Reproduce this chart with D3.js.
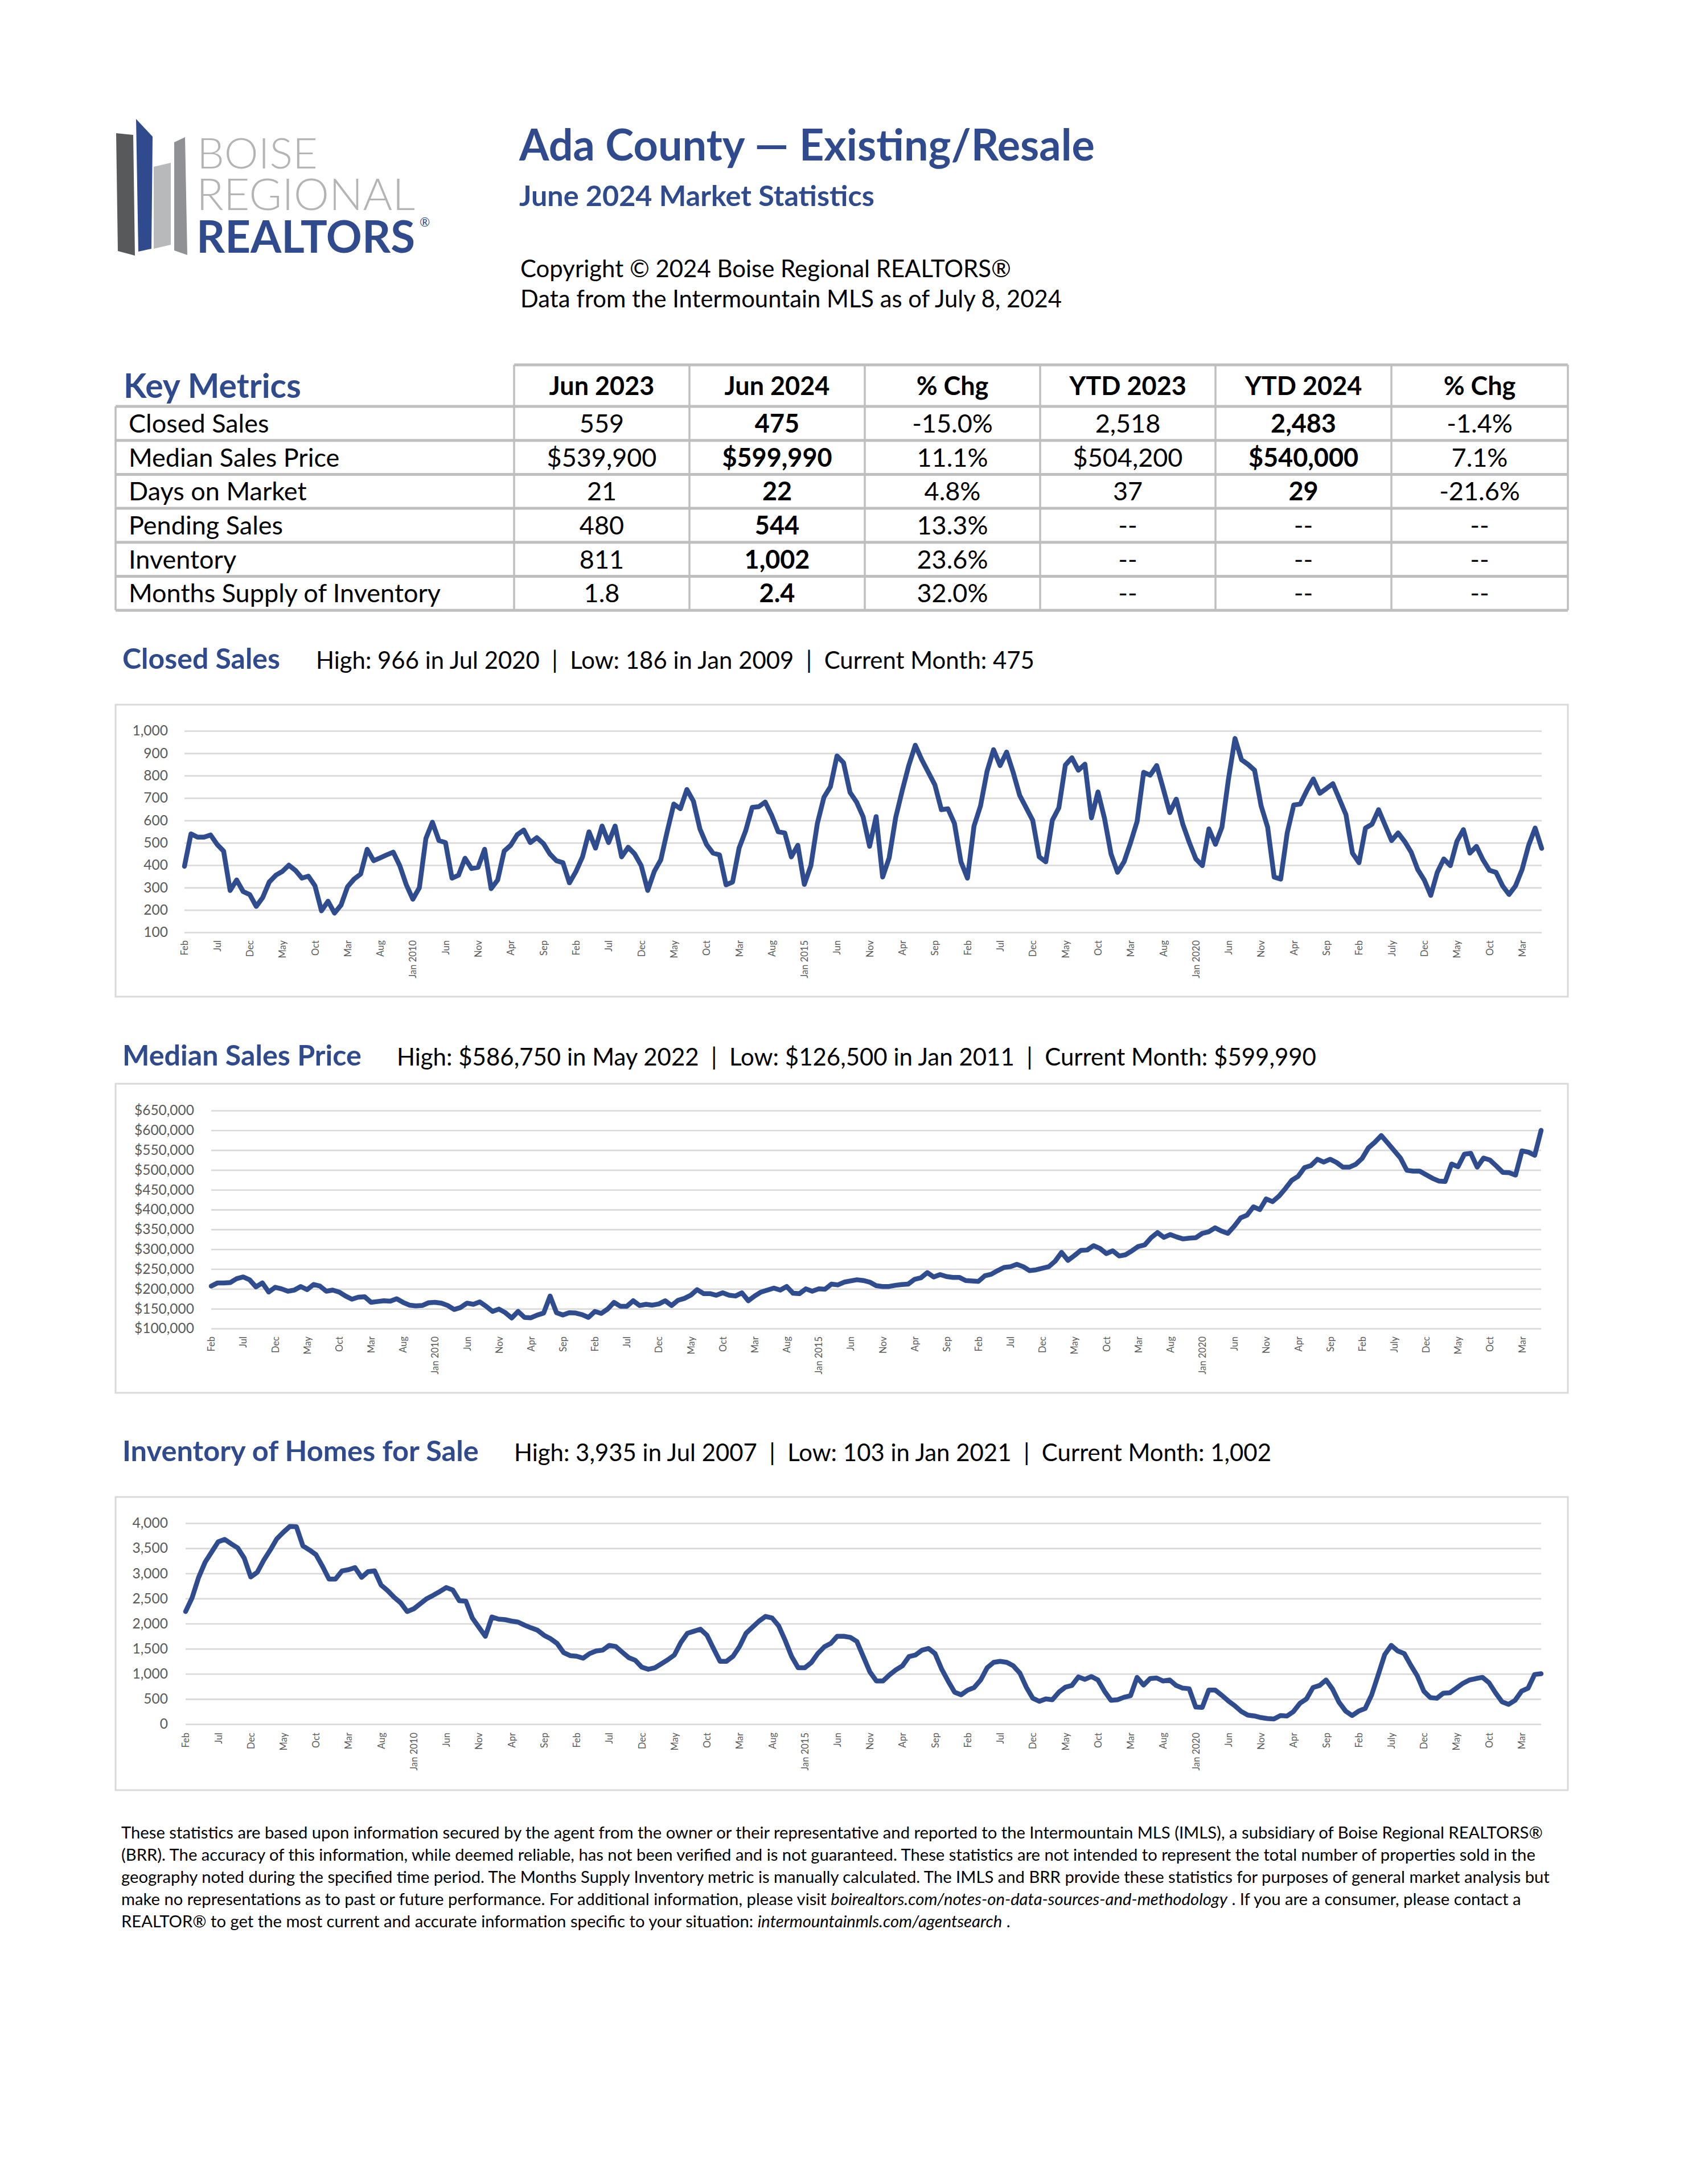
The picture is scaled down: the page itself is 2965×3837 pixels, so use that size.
<!DOCTYPE html>
<html>
<head>
<meta charset="utf-8">
<script src="https://cdn.jsdelivr.net/npm/d3@7/dist/d3.min.js"></script>
<style>
  body { margin: 0; background: #fff; }
  svg { display: block; }
  text { font-family: Lato, "Open Sans", sans-serif; }
</style>
</head>
<body>
<svg id="page"></svg>
<script>
/******************* Data *******************************/
// monthly series, Feb 2007 .. Jun 2024
var closedSales = [
  395, 540, 525, 525, 535, 493, 463, 287, 334, 282,
  269, 216, 256, 325, 355, 372, 400, 377, 342, 351,
  308, 196, 239, 186, 222, 304, 338, 360, 471, 420,
  433, 446, 458, 398, 312, 248, 299, 519, 592, 510,
  501, 342, 355, 431, 385, 390, 471, 295, 334, 463,
  489, 536, 557, 501, 523, 497, 450, 420, 411, 321,
  372, 437, 549, 476, 575, 501, 575, 437, 480, 450,
  398, 287, 372, 424, 553, 673, 652, 738, 686, 562,
  493, 454, 446, 312, 325, 476, 553, 658, 661, 682,
  622, 549, 544, 437, 489, 314, 398, 587, 703, 751,
  888, 858, 725, 682, 617, 484, 617, 347, 433, 613,
  733, 845, 936, 871, 815, 759, 648, 652, 587, 415,
  342, 574, 665, 819, 916, 845, 905, 815, 712, 656,
  600, 437, 415, 600, 656, 847, 880, 824, 851, 611,
  727, 609, 450, 368, 415, 501, 596, 815, 802, 845,
  742, 635, 695, 583, 501, 428, 398, 562, 493, 570,
  785, 966, 871, 850, 824, 665, 570, 347, 338, 544,
  669, 673, 733, 785, 721, 742, 764, 695, 626, 454,
  411, 566, 583, 648, 579, 510, 544, 506, 458, 381,
  334, 265, 368, 428, 398, 506, 559, 454, 484, 424,
  377, 368, 308, 269, 308, 381, 489, 566, 475
];

// median sales price, thousands of dollars
var medianPriceK = [
  207, 215, 215, 216, 226, 230, 223, 205, 215, 192,
  204, 200, 194, 197, 206, 198, 211, 207, 194, 197,
  192, 182, 174, 179, 180, 166, 168, 170, 169, 175,
  166, 159, 157, 158, 165, 166, 164, 158, 148, 153,
  164, 161, 167, 156, 143, 149, 140, 126.5, 143, 128,
  127, 134, 139, 182, 140, 134, 140, 139, 135, 128,
  143, 138, 149, 166, 156, 156, 170, 158, 161, 159,
  162, 170, 158, 171, 176, 184, 198, 188, 188, 184,
  190, 184, 182, 190, 170, 182, 192, 197, 202, 197,
  206, 189, 188, 200, 194, 200, 199, 212, 210, 217,
  220, 223, 221, 217, 208, 206, 206, 209, 211, 212,
  224, 228, 241, 230, 236, 231, 229, 229, 221, 220,
  219, 233, 237, 246, 254, 256, 262, 256, 246, 248,
  252, 256, 270, 292, 272, 284, 297, 298, 309, 302,
  289, 296, 283, 286, 296, 307, 311, 329, 342, 330,
  337, 331, 326, 328, 329, 340, 344, 354, 346, 340,
  358, 379, 386, 407, 400, 427, 420, 434, 453, 474,
  484, 506, 511, 527, 520, 527, 519, 507, 507, 514,
  529, 556, 570, 586.75, 568, 549, 530, 499, 497, 497,
  488, 479, 472, 471, 515, 508, 539.9, 542, 507, 530,
  525, 510, 494, 493, 487, 548, 545, 537, 599.99
];

var inventory = [
  2241, 2516, 2921, 3224, 3426, 3629, 3677, 3588, 3507, 3305,
  2929, 3022, 3264, 3467, 3689, 3819, 3935, 3930, 3548, 3467,
  3374, 3143, 2888, 2888, 3050, 3074, 3115, 2921, 3034, 3050,
  2767, 2658, 2524, 2415, 2241, 2294, 2395, 2496, 2565, 2638,
  2718, 2670, 2456, 2447, 2112, 1930, 1748, 2132, 2091, 2079,
  2051, 2031, 1970, 1917, 1869, 1768, 1699, 1606, 1424, 1363,
  1351, 1311, 1404, 1456, 1472, 1566, 1545, 1432, 1323, 1270,
  1133, 1092, 1121, 1201, 1282, 1375, 1626, 1808, 1849, 1889,
  1768, 1505, 1250, 1250, 1351, 1545, 1808, 1930, 2051, 2144,
  2112, 1958, 1667, 1343, 1121, 1121, 1222, 1404, 1537, 1606,
  1748, 1748, 1727, 1646, 1343, 1040, 858, 858, 979, 1080,
  1161, 1343, 1375, 1472, 1505, 1404, 1100, 858, 635, 583,
  676, 728, 878, 1121, 1230, 1250, 1230, 1161, 1019, 736,
  514, 453, 502, 485, 635, 736, 769, 939, 890, 947,
  878, 655, 473, 485, 534, 566, 930, 777, 906, 918,
  858, 878, 769, 716, 704, 340, 332, 676, 676, 574,
  461, 364, 251, 178, 162, 130, 110, 103, 170, 160,
  250, 415, 502, 728, 769, 878, 696, 433, 259, 170,
  259, 311, 583, 979, 1384, 1566, 1456, 1404, 1173, 959,
  655, 526, 514, 615, 623, 716, 811, 878, 906, 930,
  825, 623, 445, 392, 473, 655, 716, 987, 1002
];

// one label every 5 months, starting Feb 2007
var monthLabels = [
  'Feb', 'Jul', 'Dec', 'May', 'Oct', 'Mar', 'Aug', 'Jan 2010', 'Jun', 'Nov',
  'Apr', 'Sep', 'Feb', 'Jul', 'Dec', 'May', 'Oct', 'Mar', 'Aug', 'Jan 2015',
  'Jun', 'Nov', 'Apr', 'Sep', 'Feb', 'Jul', 'Dec', 'May', 'Oct', 'Mar',
  'Aug', 'Jan 2020', 'Jun', 'Nov', 'Apr', 'Sep', 'Feb', 'July', 'Dec', 'May',
  'Oct', 'Mar'
];

var closedTicks = [100, 200, 300, 400, 500, 600, 700, 800, 900, 1000];
var priceTicksK = [100, 150, 200, 250, 300, 350, 400, 450, 500, 550, 600, 650];
var inventoryTicks = [0, 500, 1000, 1500, 2000, 2500, 3000, 3500, 4000];

// key metrics table
var tableHeader = ['Jun 2023', 'Jun 2024', '% Chg', 'YTD 2023', 'YTD 2024', '% Chg'];
var metricNames = ['Closed Sales', 'Median Sales Price', 'Days on Market', 'Pending Sales', 'Inventory', 'Months Supply of Inventory'];
var jun2023 = ['559', '$539,900', '21', '480', '811', '1.8'];
var jun2024 = ['475', '$599,990', '22', '544', '1,002', '2.4'];
var monthChg = ['-15.0%', '11.1%', '4.8%', '13.3%', '23.6%', '32.0%'];
var ytd2023 = ['2,518', '$504,200', '37', '--', '--', '--'];
var ytd2024 = ['2,483', '$540,000', '29', '--', '--', '--'];
var ytdChg = ['-1.4%', '7.1%', '-21.6%', '--', '--', '--'];

var footerLines = [
  [['These statistics are based upon information secured by the agent from the owner or their representative and reported to the Intermountain MLS (IMLS), a subsidiary of Boise Regional REALTORS®', false]],
  [['(BRR). The accuracy of this information, while deemed reliable, has not been verified and is not guaranteed. These statistics are not intended to represent the total number of properties sold in the', false]],
  [['geography noted during the specified time period. The Months Supply Inventory metric is manually calculated. The IMLS and BRR provide these statistics for purposes of general market analysis but', false]],
  [['make no representations as to past or future performance. For additional information, please visit ', false], ['boirealtors.com/notes-on-data-sources-and-methodology', true], [' . If you are a consumer, please contact a', false]],
  [['REALTOR® to get the most current and accurate information specific to your situation: ', false], ['intermountainmls.com/agentsearch', true], [' .', false]]
];

/******************* Page *******************************/
var W = 2965, H = 3837;
var BLUE = '#2f4b8d';
var LINE_BLUE = '#2f4c8e';
var GRID = '#d9d9d9';
var AXIS_TEXT = '#595959';
var SEP = '\u00a0\u00a0|\u00a0\u00a0';

var svg = d3.select('#page').attr('width', W).attr('height', H);
svg.append('rect').attr('width', W).attr('height', H).attr('fill', '#fff');

// scale a text's font size so that it spans the given width
function fit(sel, width) {
  var len = sel.node().getComputedTextLength();
  var fs = parseFloat(sel.attr('font-size'));
  if (len > 0) sel.attr('font-size', (fs * width / len).toFixed(2));
  return sel;
}

function addText(x, y, str, size, opts) {
  opts = opts || {};
  var t = svg.append('text')
    .attr('x', x)
    .attr('y', y)
    .attr('font-size', size)
    .attr('font-weight', opts.weight || 'normal')
    .attr('fill', opts.fill || '#000')
    .attr('text-anchor', opts.anchor || 'start')
    .text(str);
  if (opts.width) fit(t, opts.width);
  return t;
}

/******************* Logo *******************************/
var logo = svg.append('g');
var logoBars = [
  { fill: '#58595b', pts: [[204, 234], [234, 237], [237, 449], [207, 441]] },
  { fill: BLUE,      pts: [[239, 209], [268, 240], [266, 437], [243, 442]] },
  { fill: '#b8b9bb', pts: [[270, 293], [300, 286], [300, 430], [270, 437]] },
  { fill: '#8f9194', pts: [[306, 250], [325, 241], [329, 448], [306, 440]] }
];
logo.selectAll('polygon')
  .data(logoBars)
  .join('polygon')
  .attr('points', function(d) { return d.pts.join(' '); })
  .attr('fill', function(d) { return d.fill; });

logo.append('text').attr('x', 346).attr('y', 296).attr('font-size', 74)
  .attr('font-weight', 300).attr('fill', '#b3b4b6')
  .attr('textLength', 212).attr('lengthAdjust', 'spacingAndGlyphs').text('BOISE');
logo.append('text').attr('x', 345).attr('y', 369).attr('font-size', 76)
  .attr('font-weight', 300).attr('fill', '#b3b4b6')
  .attr('textLength', 384).attr('lengthAdjust', 'spacingAndGlyphs').text('REGIONAL');
logo.append('text').attr('x', 345).attr('y', 444).attr('font-size', 79)
  .attr('font-weight', 'bold').attr('fill', BLUE)
  .attr('textLength', 384).attr('lengthAdjust', 'spacingAndGlyphs').text('REALTORS');
logo.append('text').attr('x', 737).attr('y', 398).attr('font-size', 22)
  .attr('fill', BLUE).text('®');

/******************* Header *****************************/
addText(912, 282, 'Ada County — Existing/Resale', 72, { weight: 'bold', fill: BLUE, width: 1011 });
addText(912, 362, 'June 2024 Market Statistics', 48, { weight: 'bold', fill: BLUE, width: 624 });
addText(914, 487, 'Copyright © 2024 Boise Regional REALTORS®', 42, { width: 862 });
addText(914, 540, 'Data from the Intermountain MLS as of July 8, 2024', 42, { width: 951 });

/******************* Key metrics table ******************/
var colX = [203, 903, 1211, 1519, 1827, 2135, 2444, 2754];
var tableTop = 641, headBottom = 714, rowH = 59.7;
var tbl = svg.append('g');
var rowLines = d3.range(metricNames.length + 1).map(function(k) { return headBottom + k * rowH; });
var tableBottom = rowLines[rowLines.length - 1];

tbl.append('line')
  .attr('x1', colX[1]).attr('x2', colX[7])
  .attr('y1', tableTop).attr('y2', tableTop)
  .attr('stroke', '#bfbfbf').attr('stroke-width', 5);
tbl.selectAll('line.h')
  .data(rowLines)
  .join('line')
  .attr('class', 'h')
  .attr('x1', colX[0]).attr('x2', colX[7])
  .attr('y1', function(d) { return d; }).attr('y2', function(d) { return d; })
  .attr('stroke', '#bfbfbf').attr('stroke-width', 5);
tbl.selectAll('line.v')
  .data(colX)
  .join('line')
  .attr('class', 'v')
  .attr('x1', function(d) { return d; }).attr('x2', function(d) { return d; })
  .attr('y1', function(d, i) { return i === 0 ? headBottom : tableTop; })
  .attr('y2', tableBottom)
  .attr('stroke', '#bfbfbf').attr('stroke-width', 3.5);

addText(217, 699, 'Key Metrics', 56, { weight: 'bold', fill: BLUE, width: 312 });

tableHeader.forEach(function(h, c) {
  addText((colX[c + 1] + colX[c + 2]) / 2, 694, h, 45, { weight: 'bold', anchor: 'middle' });
});

var tableCols = [jun2023, jun2024, monthChg, ytd2023, ytd2024, ytdChg];
var boldCols = [false, true, false, false, true, false];
metricNames.forEach(function(name, r) {
  var base = headBottom + r * rowH + rowH / 2 + 16;
  addText(226, base, name, 45);
  tableCols.forEach(function(col, c) {
    var isBold = boldCols[c] && col[r] !== '--';
    addText((colX[c + 1] + colX[c + 2]) / 2, base, col[r], 45,
      { anchor: 'middle', weight: isBold ? 'bold' : 'normal' });
  });
});

/******************* Charts *****************************/
function sectionTitle(y, title, titleW, statsX, stats, statsW) {
  addText(215, y, title, 50, { weight: 'bold', fill: BLUE, width: titleW });
  addText(statsX, y, stats.join(SEP), 42, { width: statsW });
}

function drawChart(c) {
  var g = svg.append('g');

  g.append('rect')
    .attr('x', c.box[0]).attr('y', c.box[1])
    .attr('width', c.box[2] - c.box[0]).attr('height', c.box[3] - c.box[1])
    .attr('fill', '#fff').attr('stroke', GRID).attr('stroke-width', 3);

  var x = d3.scalePoint()
    .domain(d3.range(c.values.length))
    .range([c.left, c.right]);
  var y = d3.scaleLinear()
    .domain(c.domain)
    .range([c.bottom, c.top]);

  var yAxis = g.append('g')
    .attr('transform', 'translate(' + c.left + ',0)')
    .call(d3.axisLeft(y)
      .tickValues(c.ticks)
      .tickSize(-(c.right - c.left))
      .tickPadding(c.labelPad)
      .tickFormat(c.format));
  yAxis.select('.domain').remove();
  yAxis.selectAll('line').attr('stroke', GRID).attr('stroke-width', 2.6);
  yAxis.selectAll('text')
    .attr('font-family', 'Lato, "Open Sans", sans-serif')
    .attr('font-size', 24.5)
    .attr('fill', AXIS_TEXT);

  var labelIdx = monthLabels.map(function(d, i) { return i * 5; });
  var xAxis = g.append('g')
    .attr('transform', 'translate(0,' + c.bottom + ')')
    .call(d3.axisBottom(x)
      .tickValues(labelIdx)
      .tickSize(0)
      .tickFormat(function(d) { return monthLabels[d / 5]; }));
  xAxis.select('.domain').remove();
  xAxis.selectAll('text')
    .attr('font-family', '"DejaVu Sans", Verdana, sans-serif')
    .attr('font-size', 16.5)
    .attr('fill', AXIS_TEXT)
    .attr('transform', 'rotate(-90)')
    .attr('x', -c.xLabelGap)
    .attr('y', 0)
    .attr('dy', '0.35em')
    .attr('text-anchor', 'end');

  var line = d3.line()
    .x(function(d, i) { return x(i); })
    .y(function(d) { return y(d); });

  g.append('path')
    .datum(c.values)
    .attr('d', line)
    .attr('fill', 'none')
    .attr('stroke', LINE_BLUE)
    .attr('stroke-width', 8.5)
    .attr('stroke-linejoin', 'round')
    .attr('stroke-linecap', 'round');
}

var commaFmt = d3.format(',');

sectionTitle(1175, 'Closed Sales', 277, 555,
  ['High: 966 in Jul 2020', 'Low: 186 in Jan 2009', 'Current Month: 475'], 1262);
drawChart({
  box: [203, 1238, 2754, 1751],
  left: 324, right: 2708, top: 1284, bottom: 1638,
  values: closedSales,
  domain: [100, 1000],
  ticks: closedTicks,
  format: commaFmt,
  labelPad: 29,
  xLabelGap: 14
});

sectionTitle(1872, 'Median Sales Price', 420, 697,
  ['High: $586,750 in May 2022', 'Low: $126,500 in Jan 2011', 'Current Month: $599,990'], 1615);
drawChart({
  box: [203, 1904, 2754, 2447],
  left: 371, right: 2707, top: 1951, bottom: 2334,
  values: medianPriceK,
  domain: [100, 650],
  ticks: priceTicksK,
  format: function(d) { return '$' + commaFmt(d * 1000); },
  labelPad: 30,
  xLabelGap: 14
});

sectionTitle(2567, 'Inventory of Homes for Sale', 626, 903,
  ['High: 3,935 in Jul 2007', 'Low: 103 in Jan 2021', 'Current Month: 1,002'], 1330);
drawChart({
  box: [203, 2630, 2754, 3145],
  left: 326, right: 2707, top: 2676, bottom: 3029,
  values: inventory,
  domain: [0, 4000],
  ticks: inventoryTicks,
  format: commaFmt,
  labelPad: 31,
  xLabelGap: 15
});

/******************* Footer *****************************/
var footerBase = [3230, 3269, 3308, 3347, 3386];
var footer = svg.append('g');
var footerSize = 27;

footerLines.forEach(function(parts, i) {
  var t = footer.append('text')
    .attr('x', 213)
    .attr('y', footerBase[i])
    .attr('font-size', footerSize);
  parts.forEach(function(p) {
    t.append('tspan')
      .attr('font-style', p[1] ? 'italic' : 'normal')
      .text(p[0]);
  });
  if (i === 0) {
    fit(t, 2497);
    footerSize = parseFloat(t.attr('font-size'));
  }
});
</script>
</body>
</html>
